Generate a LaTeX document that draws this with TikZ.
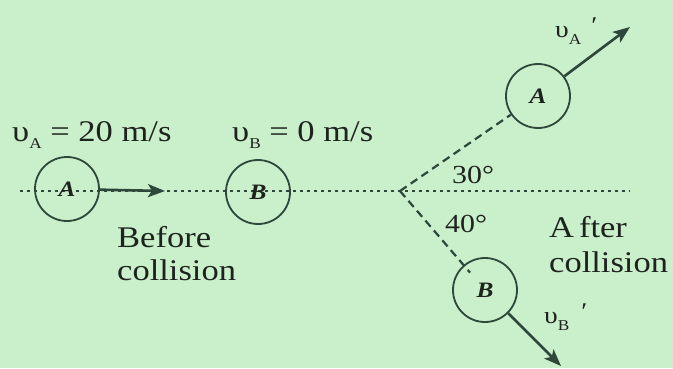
\documentclass[tikz,border=0pt]{standalone}
\usepackage{fontspec}
\setmainfont{Liberation Serif}[FakeStretch=1.15]
\usetikzlibrary{arrows.meta}
\definecolor{bg}{RGB}{202,240,203}
\definecolor{ink}{RGB}{45,72,58}
\definecolor{txt}{RGB}{30,35,30}
\newcommand{\sbs}[1]{\raisebox{-7pt}{\fontsize{15}{15}\selectfont #1}}
\newcommand{\prm}{\raisebox{4pt}{′}}
\begin{document}
\begin{tikzpicture}[x=1pt,y=-1pt,
 ball/.style={circle,draw=ink,line width=1.8pt,minimum size=64pt,inner sep=0pt,font=\fontsize{22}{22}\selectfont\bfseries\itshape,text=txt},
 refline/.style={draw=ink,line width=2pt,dash pattern=on 3pt off 4pt},
 pathline/.style={draw=ink,line width=2.2pt,dash pattern=on 8pt off 5pt},
 vel/.style={draw=ink,line width=2.6pt,-{Stealth[length=17pt,width=13pt,inset=4pt]}},
 lbl/.style={text=txt,font=\fontsize{30}{33}\selectfont,inner sep=0pt}]
\fill[bg] (0,0) rectangle (673,368);
\useasboundingbox (0,0) rectangle (673,368);
% reference line
\coordinate (L) at (20,191);
\coordinate (R) at (630,191);
\coordinate (O) at (400,191);
\draw[refline] (L) -- (R);
% balls
\node[ball] (cA) at (67,189) {\raisebox{-5pt}{A}};
\node[ball] (cB) at (258,192) {B};
\node[ball] (cA2) at (538,96) {\raisebox{-4pt}{A}};
\node[ball] (cB2) at (485,290) {B};
% paths after collision
\draw[pathline] (O) -- (cA2);
\draw[pathline,shorten >=-10pt] (O) -- (cB2);
% velocities
\coordinate (tA) at (165,191);
\coordinate (tA2) at (630,27);
\coordinate (tB2) at (561,366);
\draw[vel] (cA) -- (tA);
\draw[vel] (cA2) -- (tA2);
\draw[vel] (cB2) -- (tB2);
% labels
\node[lbl,anchor=base west] (vA) at (12,141) {υ\sbs{A} = 20 m/s};
\node[lbl,anchor=base west] (vB) at (232,141) {υ\sbs{B} = 0 m/s};
\node[lbl,anchor=base west,align=left] (bef) at (117,280) {Before\\collision};
\node[lbl,anchor=base west,align=left,font=\fontsize{30}{35}\selectfont] (aft) at (549,272) {A\,fter\\collision};
\node[lbl,anchor=base west,font=\fontsize{26}{26}\selectfont] (a30) at (452,183) {30°};
\node[lbl,anchor=base west,font=\fontsize{26}{26}\selectfont] (a40) at (445,232) {40°};
\node[lbl,anchor=base west,font=\fontsize{24}{24}\selectfont] (vA2) at (555,37) {υ\sbs{A}\hspace{10pt}\prm};
\node[lbl,anchor=base west,font=\fontsize{24}{24}\selectfont] (vB2) at (544,323) {υ\sbs{B}\hspace{12pt}\prm};
\end{tikzpicture}
\end{document}
